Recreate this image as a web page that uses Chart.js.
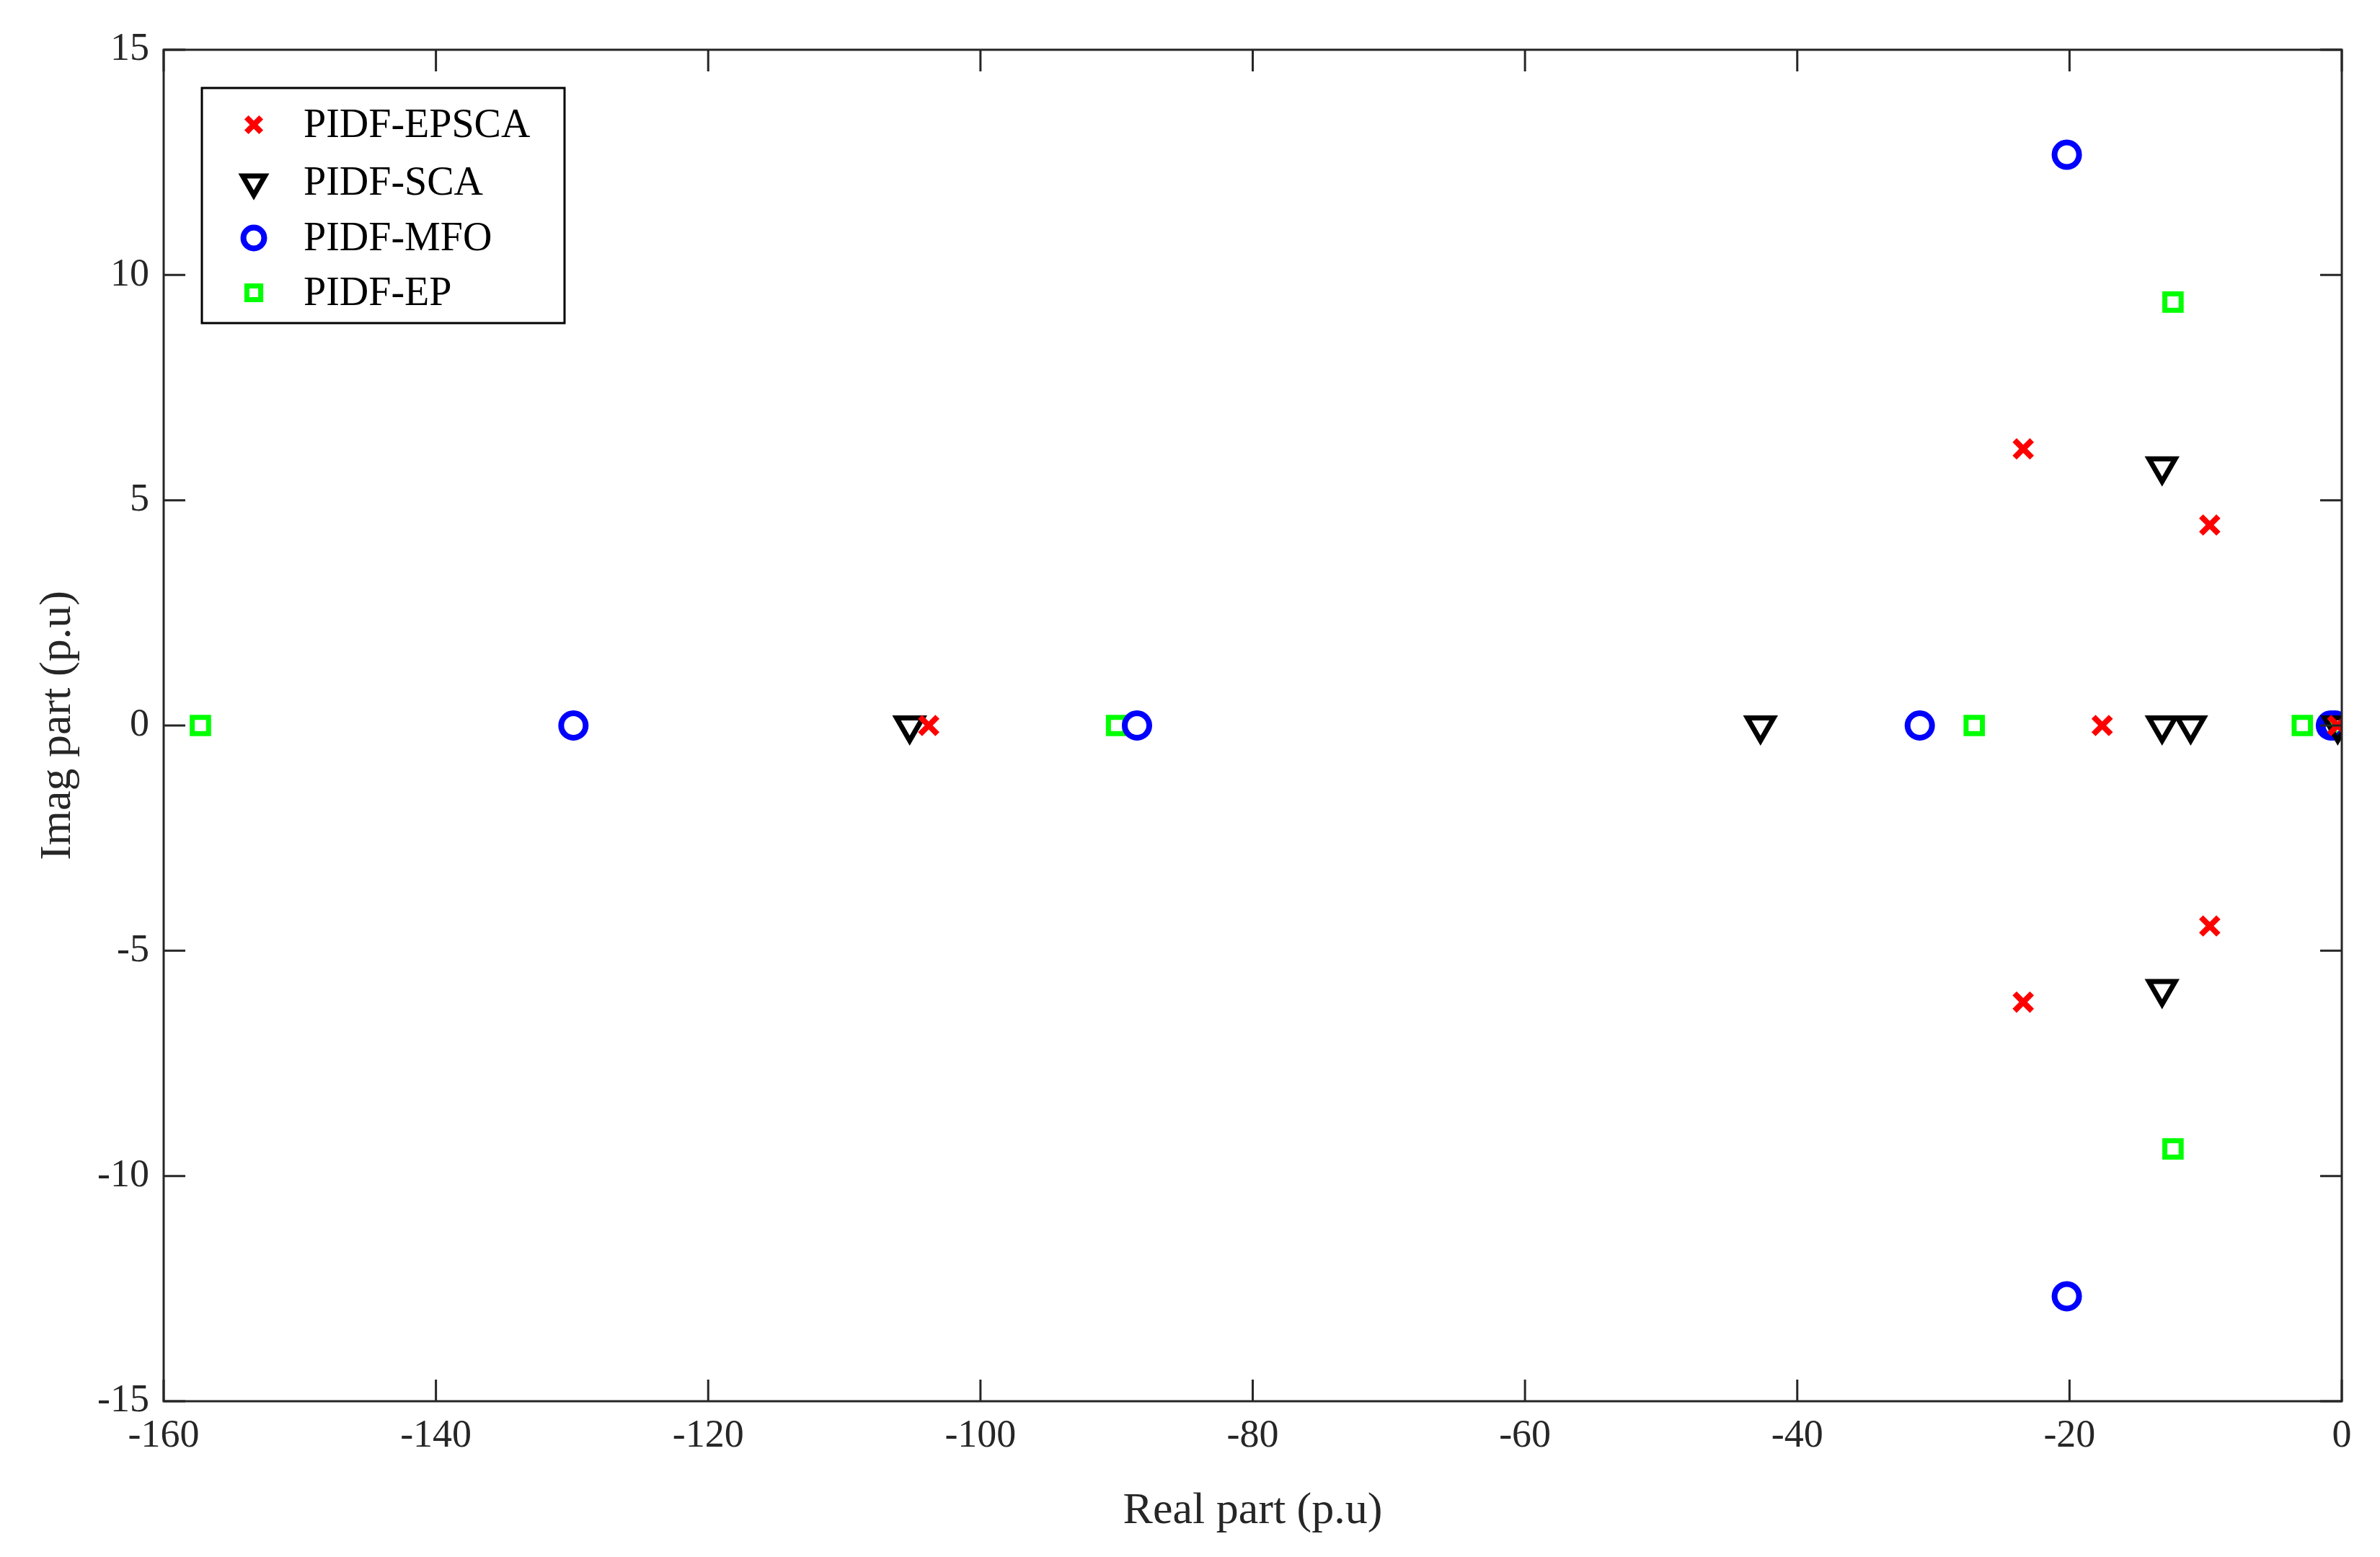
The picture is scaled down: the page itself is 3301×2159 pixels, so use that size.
<!DOCTYPE html>
<html><head><meta charset="utf-8">
<script src="https://cdn.jsdelivr.net/npm/chart.js@4/dist/chart.umd.min.js"></script>
<style>html,body{margin:0;padding:0;background:#fff}#w{width:3301px;height:2159px}</style>
</head><body><div id="w"><canvas id="c"></canvas></div>
<script>
const seriesNames = ["PIDF-EPSCA","PIDF-SCA","PIDF-MFO","PIDF-EP"];
const epscaX = [-103.8,-23.4,-23.4,-17.6,-9.7,-9.7,-0.3];
const epscaY = [0,6.14,-6.14,0,4.45,-4.45,0];
const scaX = [-105.2,-42.7,-13.2,-13.2,-13.2,-11.1,-0.3];
const scaY = [0,0,5.75,0,-5.85,0,0];
const mfoX = [-129.9,-88.5,-31,-20.2,-20.2,-0.8,-0.5];
const mfoY = [0,0,0,12.67,-12.67,0,0];
const epX = [-157.3,-90,-27,-12.4,-12.4,-2.9,-0.2];
const epY = [0,0,0,9.4,-9.4,0,0];
const xTicks = [-160,-140,-120,-100,-80,-60,-40,-20,0];
const yTicks = [-15,-10,-5,0,5,10,15];

const pts = (xs,ys)=>xs.map((x,i)=>({x:x,y:ys[i]}));
const FONT = "'Liberation Serif', 'Times New Roman', serif";
const styles = [
 {pointStyle:'crossRot',color:'#ff0000',r:17,rot:0,bw:8},
 {pointStyle:'triangle',color:'#000000',r:21,rot:180,bw:7},
 {pointStyle:'circle',color:'#0000ff',r:17,rot:0,bw:8},
 {pointStyle:'rect',color:'#00ff00',r:16,rot:0,bw:7}
];
const data = [pts(epscaX,epscaY),pts(scaX,scaY),pts(mfoX,mfoY),pts(epX,epY)];
const datasets = data.map((d,i)=>({label:seriesNames[i],data:d,showLine:false,
 pointStyle:styles[i].pointStyle,pointRotation:styles[i].rot,pointRadius:styles[i].r,
 pointBorderColor:styles[i].color,pointBackgroundColor:'rgba(0,0,0,0)',pointBorderWidth:styles[i].bw,
 pointHoverRadius:styles[i].r}));

const boxPlugin = {id:'box',afterDraw(chart){
 const ctx=chart.ctx,a=chart.chartArea,xs=chart.scales.x,ys=chart.scales.y;
 ctx.save();ctx.strokeStyle='#262626';ctx.lineWidth=3;
 ctx.strokeRect(a.left,a.top,a.right-a.left,a.bottom-a.top);
 const L=30;ctx.beginPath();
 xTicks.forEach(t=>{const p=xs.getPixelForValue(t);ctx.moveTo(p,a.bottom);ctx.lineTo(p,a.bottom-L);ctx.moveTo(p,a.top);ctx.lineTo(p,a.top+L);});
 yTicks.forEach(t=>{const p=ys.getPixelForValue(t);ctx.moveTo(a.left,p);ctx.lineTo(a.left+L,p);ctx.moveTo(a.right,p);ctx.lineTo(a.right-L,p);});
 ctx.stroke();
 const lx=280,ly=122,lw=503,lh=326;
 ctx.fillStyle='#fff';ctx.fillRect(lx,ly,lw,lh);
 ctx.strokeStyle='#000';ctx.lineWidth=3;ctx.strokeRect(lx,ly,lw,lh);
 const rows=[173,253,330,406];
 ctx.font='56px '+FONT;ctx.textBaseline='middle';
 seriesNames.forEach((n,i)=>{
  const s=styles[i];
  ctx.strokeStyle=s.color;ctx.fillStyle='rgba(0,0,0,0)';ctx.lineWidth=s.bw;
  Chart.helpers.drawPoint(ctx,{pointStyle:s.pointStyle,rotation:s.rot,radius:s.r*0.85,borderWidth:s.bw},352,rows[i]);
  ctx.fillStyle='#000';ctx.fillText(n,421,rows[i]+2);
 });
 ctx.restore();
}};

new Chart(document.getElementById('c'),{type:'scatter',data:{datasets},
 options:{responsive:true,maintainAspectRatio:false,animation:false,devicePixelRatio:1,
  layout:{padding:{top:69,right:53,left:40,bottom:22}},
  plugins:{legend:{display:false},tooltip:{enabled:false}},
  scales:{
   x:{type:'linear',min:-160,max:0,
    afterBuildTicks:s=>{s.ticks=xTicks.map(v=>({value:v}));},
    afterFit:s=>{s.height=194;},
    grid:{display:false},border:{display:false},
    ticks:{color:'#262626',font:{family:FONT,size:54},padding:8,maxRotation:0},
    title:{display:true,text:'Real part (p.u)',color:'#262626',font:{family:FONT,size:62},padding:{top:0}}},
   y:{type:'linear',min:-15,max:15,
    afterBuildTicks:s=>{s.ticks=yTicks.map(v=>({value:v}));},
    afterFit:s=>{s.width=187;},
    grid:{display:false},border:{display:false},
    ticks:{color:'#262626',font:{family:FONT,size:54},padding:12},
    title:{display:true,text:'Imag part (p.u)',color:'#262626',font:{family:FONT,size:62},padding:{bottom:10}}}
  }},plugins:[boxPlugin]});
</script></body></html>
